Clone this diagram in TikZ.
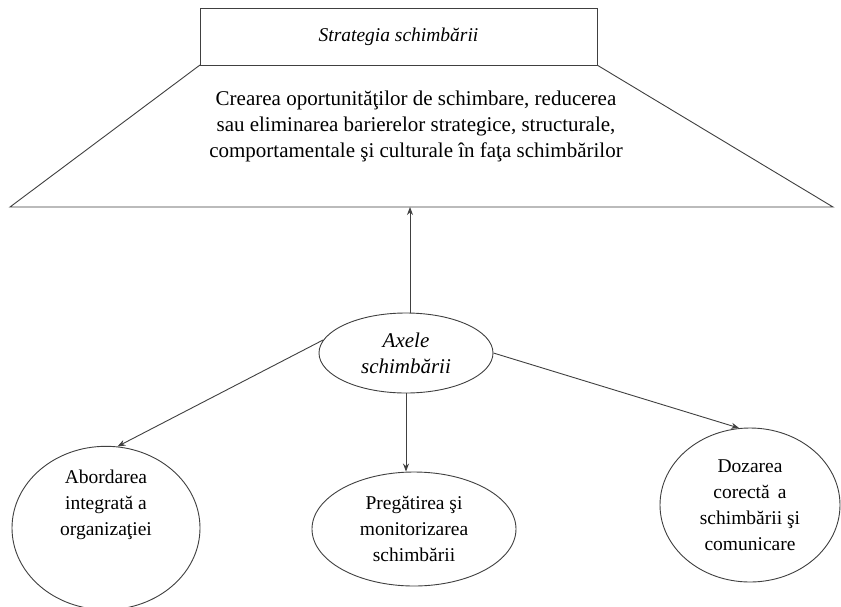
\documentclass[tikz,border=0pt]{standalone}
\usepackage{fontspec}
\setmainfont{Liberation Serif}
\usetikzlibrary{shapes.geometric,arrows.meta}
\begin{document}
\begin{tikzpicture}[x=1pt,y=-1pt,
  ln/.style={draw=black!75,line width=0.9pt},
  arr/.style={ln,-{Stealth[length=8pt,width=6pt]}},
  oval/.style={ln,ellipse,inner sep=0pt,align=center,font=\rmfamily\fontsize{19.5}{26}\selectfont},
  lbl/.style={align=center,font=\rmfamily\fontsize{21}{26}\selectfont}]
\useasboundingbox[fill=white] (0,0) rectangle (841,606);
% trapezoid
\coordinate (tl) at (200,65);
\coordinate (tr) at (597,65);
\coordinate (bl) at (10,207);
\coordinate (br) at (833,207);
\draw[ln] (tl) -- (bl) -- (br) -- (tr);
\node[ln,minimum width=397pt,minimum height=57pt,inner sep=0pt,font=\rmfamily\itshape\fontsize{19.5}{22}\selectfont] (strat) at (398.5,36.5) {Strategia schimbării};
\node[lbl] (desc) at (416,126) {Crearea oportunităţilor de schimbare, reducerea\\sau eliminarea barierelor strategice, structurale,\\comportamentale şi culturale în faţa schimbărilor};
\node[oval,minimum width=174pt,minimum height=80pt,font=\rmfamily\itshape\fontsize{21}{26}\selectfont] (axe) at (406,353) {Axele\\schimbării};
\coordinate (tb) at (410,207);
\node[oval,minimum width=188pt,minimum height=156pt] (a) at (106,528) {Abordarea\\integrată a\\organizaţiei\\[24pt]};
\node[oval,minimum width=204pt,minimum height=114pt] (b) at (414,529) {Pregătirea şi\\monitorizarea\\schimbării};
\node[oval,minimum width=180pt,minimum height=154pt] (c) at (750,505) {Dozarea\\corectă \,a\\schimbării şi\\comunicare};
\draw[arr] (axe.north -| tb) -- (tb);
\draw[arr] (axe.south) -- (axe.south |- b.north);
\draw[arr] (axe.171) -- (a.82);
\draw[arr] (axe.east) -- (c.98);
\end{tikzpicture}
\end{document}
